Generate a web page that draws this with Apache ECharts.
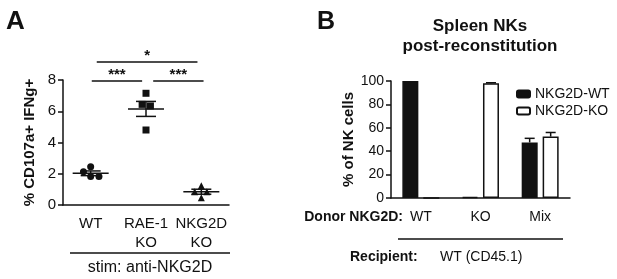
<!DOCTYPE html>
<html>
<head>
<meta charset="utf-8">
<script src="https://cdn.jsdelivr.net/npm/echarts@6/dist/echarts.min.js"></script>
<style>
    html, body { margin: 0; padding: 0; background: #fff; }
    #chart { width: 617px; height: 279px; }
</style>
</head>
<body>
<div id="chart"></div>
<script>
// Panel A: scatter with mean +/- SEM
var groupsA = ['WT', 'RAE-1\nKO', 'NKG2D\nKO'];
var wtVals = [2.13, 2.45, 1.82, 1.82];
var wtJitter = [-0.13, 0, 0, 0.15];
var raeVals = [7.15, 6.44, 6.34, 4.8];
var raeJitter = [0, -0.07, 0.08, 0];
var nkgVals = [1.24, 0.85, 0.85, 0.47];
var nkgJitter = [0, -0.12, 0.1, 0];
var meansA = [2.03, 6.15, 0.85];
var semA = [0.15, 0.48, 0.16];
var yTicksA = [0, 8, 2];
// significance brackets: from, to, height, stars
var brackets = [
    [1.11, 2.93, 9.15, '*'],
    [1.02, 1.93, 7.94, '***'],
    [2.13, 3.04, 7.94, '***']
];

// Panel B: grouped bars
var groupsB = ['WT', 'KO', 'Mix'];
var wtBars = [100, 1, 47.5];
var wtErr = [0, 0, 3.5];
var koBars = [0, 98, 52.5];
var koErr = [0, 0.5, 3.5];

var FONT = '"Liberation Sans", Arial, sans-serif';
var chart = echarts.init(document.getElementById('chart'));

function pts(vals, jit, pos) {
    return vals.map(function (v, i) { return [pos + jit[i], v]; });
}

function meanSem(params, api) {
    var x = api.value(0), m = api.value(1), s = api.value(2);
    var c = api.coord([x, m]);
    var hi = api.coord([x, m + s]);
    var lo = api.coord([x, m - s]);
    var st = { stroke: '#111', lineWidth: 1.5 };
    return {
        type: 'group',
        children: [
            { type: 'line', shape: { x1: c[0] - 18, y1: c[1], x2: c[0] + 18, y2: c[1] }, style: st },
            { type: 'line', shape: { x1: c[0], y1: hi[1], x2: c[0], y2: lo[1] }, style: st },
            { type: 'line', shape: { x1: c[0] - 10, y1: hi[1], x2: c[0] + 10, y2: hi[1] }, style: st },
            { type: 'line', shape: { x1: c[0] - 10, y1: lo[1], x2: c[0] + 10, y2: lo[1] }, style: st }
        ]
    };
}

function bracket(params, api) {
    var a = api.coord([api.value(0), api.value(2)]);
    var b = api.coord([api.value(1), api.value(2)]);
    return {
        type: 'group',
        children: [
            { type: 'line', shape: { x1: a[0], y1: a[1], x2: b[0], y2: b[1] }, style: { stroke: '#111', lineWidth: 1.5 } },
            { type: 'text', style: { text: brackets[params.dataIndex][3], x: (a[0] + b[0]) / 2, y: a[1] + 1,
                align: 'center', verticalAlign: 'bottom', font: 'bold 15px ' + FONT, fill: '#111' } }
        ]
    };
}

function errBar(offset) {
    return function (params, api) {
        var x = api.value(0), v = api.value(1), e = api.value(2);
        if (!e) return null;
        var top = api.coord([x, v + e]);
        var base = api.coord([x, v]);
        var cx = top[0] + offset;
        var st = { stroke: '#111', lineWidth: 1.5 };
        return {
            type: 'group',
            children: [
                { type: 'line', shape: { x1: cx, y1: base[1], x2: cx, y2: top[1] }, style: st },
                { type: 'line', shape: { x1: cx - 5, y1: top[1], x2: cx + 5, y2: top[1] }, style: st }
            ]
        };
    };
}

var axisLine = { lineStyle: { color: '#111', width: 1.5 } };

var option = {
    animation: false,
    textStyle: { fontFamily: FONT },
    grid: [
        { left: 63, top: 80, width: 166, height: 125 },
        { left: 391, top: 81, width: 179, height: 117 }
    ],
    legend: {
        left: 511, top: 82, orient: 'vertical', itemWidth: 13, itemHeight: 7, itemGap: 3,
        textStyle: { fontSize: 14, color: '#111', fontFamily: FONT },
        data: ['NKG2D-WT', 'NKG2D-KO']
    },
    xAxis: [
        {
            gridIndex: 0, type: 'category', data: groupsA,
            axisLine: axisLine, axisTick: { alignWithLabel: true, length: 5, lineStyle: { color: '#111', width: 1.5 } },
            axisLabel: { color: '#111', fontSize: 15, lineHeight: 19, margin: 9, interval: 0, hideOverlap: false }
        },
        { gridIndex: 0, type: 'value', min: 0.5, max: 3.5, show: false },
        {
            gridIndex: 1, type: 'category', data: groupsB,
            axisLine: axisLine, axisTick: { alignWithLabel: true, length: 5, lineStyle: { color: '#111', width: 1.5 } },
            axisLabel: { color: '#111', fontSize: 14, margin: 12, interval: 0 }
        }
    ],
    yAxis: [
        {
            gridIndex: 0, type: 'value', min: yTicksA[0], max: yTicksA[1], interval: yTicksA[2],
            splitLine: { show: false }, axisLine: { show: true, lineStyle: { color: '#111', width: 1.5 } }, axisTick: { show: true, length: 5, lineStyle: { color: '#111', width: 1.5 } },
            axisLabel: { color: '#111', fontSize: 15, margin: 7 },
            name: '% CD107a+ IFNg+', nameLocation: 'middle', nameGap: 26,
            nameTextStyle: { fontSize: 15, fontWeight: 'bold', color: '#111' }
        },
        {
            gridIndex: 1, type: 'value', min: 0, max: 100, interval: 20,
            splitLine: { show: false }, axisLine: { show: true, lineStyle: { color: '#111', width: 1.5 } }, axisTick: { show: true, length: 5, lineStyle: { color: '#111', width: 1.5 } },
            axisLabel: { color: '#111', fontSize: 14, margin: 7 },
            name: '% of NK cells', nameLocation: 'middle', nameGap: 35,
            nameTextStyle: { fontSize: 15, fontWeight: 'bold', color: '#111' }
        }
    ],
    series: [
        { type: 'scatter', xAxisIndex: 1, yAxisIndex: 0, symbol: 'circle', symbolSize: 7, itemStyle: { color: '#111', opacity: 1 }, data: pts(wtVals, wtJitter, 1) },
        { type: 'scatter', xAxisIndex: 1, yAxisIndex: 0, symbol: 'rect', symbolSize: 7, itemStyle: { color: '#111', opacity: 1 }, data: pts(raeVals, raeJitter, 2) },
        { type: 'scatter', xAxisIndex: 1, yAxisIndex: 0, symbol: 'triangle', symbolSize: 7, itemStyle: { color: '#111', opacity: 1 }, data: pts(nkgVals, nkgJitter, 3) },
        { type: 'custom', xAxisIndex: 1, yAxisIndex: 0, renderItem: meanSem, z: 5,
          data: meansA.map(function (m, i) { return [i + 1, m, semA[i]]; }) },
        { type: 'custom', xAxisIndex: 1, yAxisIndex: 0, renderItem: bracket, clip: false,
          data: brackets.map(function (b) { return [b[0], b[1], b[2]]; }) },
        { name: 'NKG2D-WT', type: 'bar', xAxisIndex: 2, yAxisIndex: 1, barWidth: 16, barGap: '31%',
          itemStyle: { color: '#111', borderColor: '#111', borderWidth: 1.5 }, data: wtBars },
        { name: 'NKG2D-KO', type: 'bar', xAxisIndex: 2, yAxisIndex: 1, barWidth: 16,
          itemStyle: { color: '#fff', borderColor: '#111', borderWidth: 1.5 }, data: koBars },
        { type: 'custom', xAxisIndex: 2, yAxisIndex: 1, renderItem: errBar(-10.5),
          data: wtBars.map(function (v, i) { return [i, v, wtErr[i]]; }) },
        { type: 'custom', xAxisIndex: 2, yAxisIndex: 1, renderItem: errBar(10.5),
          data: koBars.map(function (v, i) { return [i, v, koErr[i]]; }) }
    ],
    graphic: [
        { type: 'text', left: 6, top: 9, style: { text: 'A', font: 'bold 26px ' + FONT, fill: '#111' } },
        { type: 'text', left: 317, top: 10, style: { text: 'B', font: 'bold 25px ' + FONT, fill: '#111' } },
        { type: 'text', x: 480, y: 36, style: { text: 'Spleen NKs\npost-reconstitution', align: 'center', verticalAlign: 'middle',
            font: 'bold 17px ' + FONT, lineHeight: 20, fill: '#111' } },
        { type: 'line', shape: { x1: 70, y1: 253, x2: 230, y2: 253 }, style: { stroke: '#111', lineWidth: 1.5 } },
        { type: 'text', x: 150, y: 268, style: { text: 'stim: anti-NKG2D', align: 'center', verticalAlign: 'middle', font: '16px ' + FONT, fill: '#111' } },
        { type: 'text', x: 403, y: 217, style: { text: 'Donor NKG2D:', align: 'right', verticalAlign: 'middle', font: 'bold 14px ' + FONT, fill: '#111' } },
        { type: 'line', shape: { x1: 398, y1: 239, x2: 563, y2: 239 }, style: { stroke: '#111', lineWidth: 1.5 } },
        { type: 'text', x: 350, y: 257, style: { text: 'Recipient:', align: 'left', verticalAlign: 'middle', font: 'bold 14px ' + FONT, fill: '#111' } },
        { type: 'text', x: 440, y: 257, style: { text: 'WT (CD45.1)', align: 'left', verticalAlign: 'middle', font: '14px ' + FONT, fill: '#111' } }
    ]
};
chart.setOption(option);
</script>
</body>
</html>
